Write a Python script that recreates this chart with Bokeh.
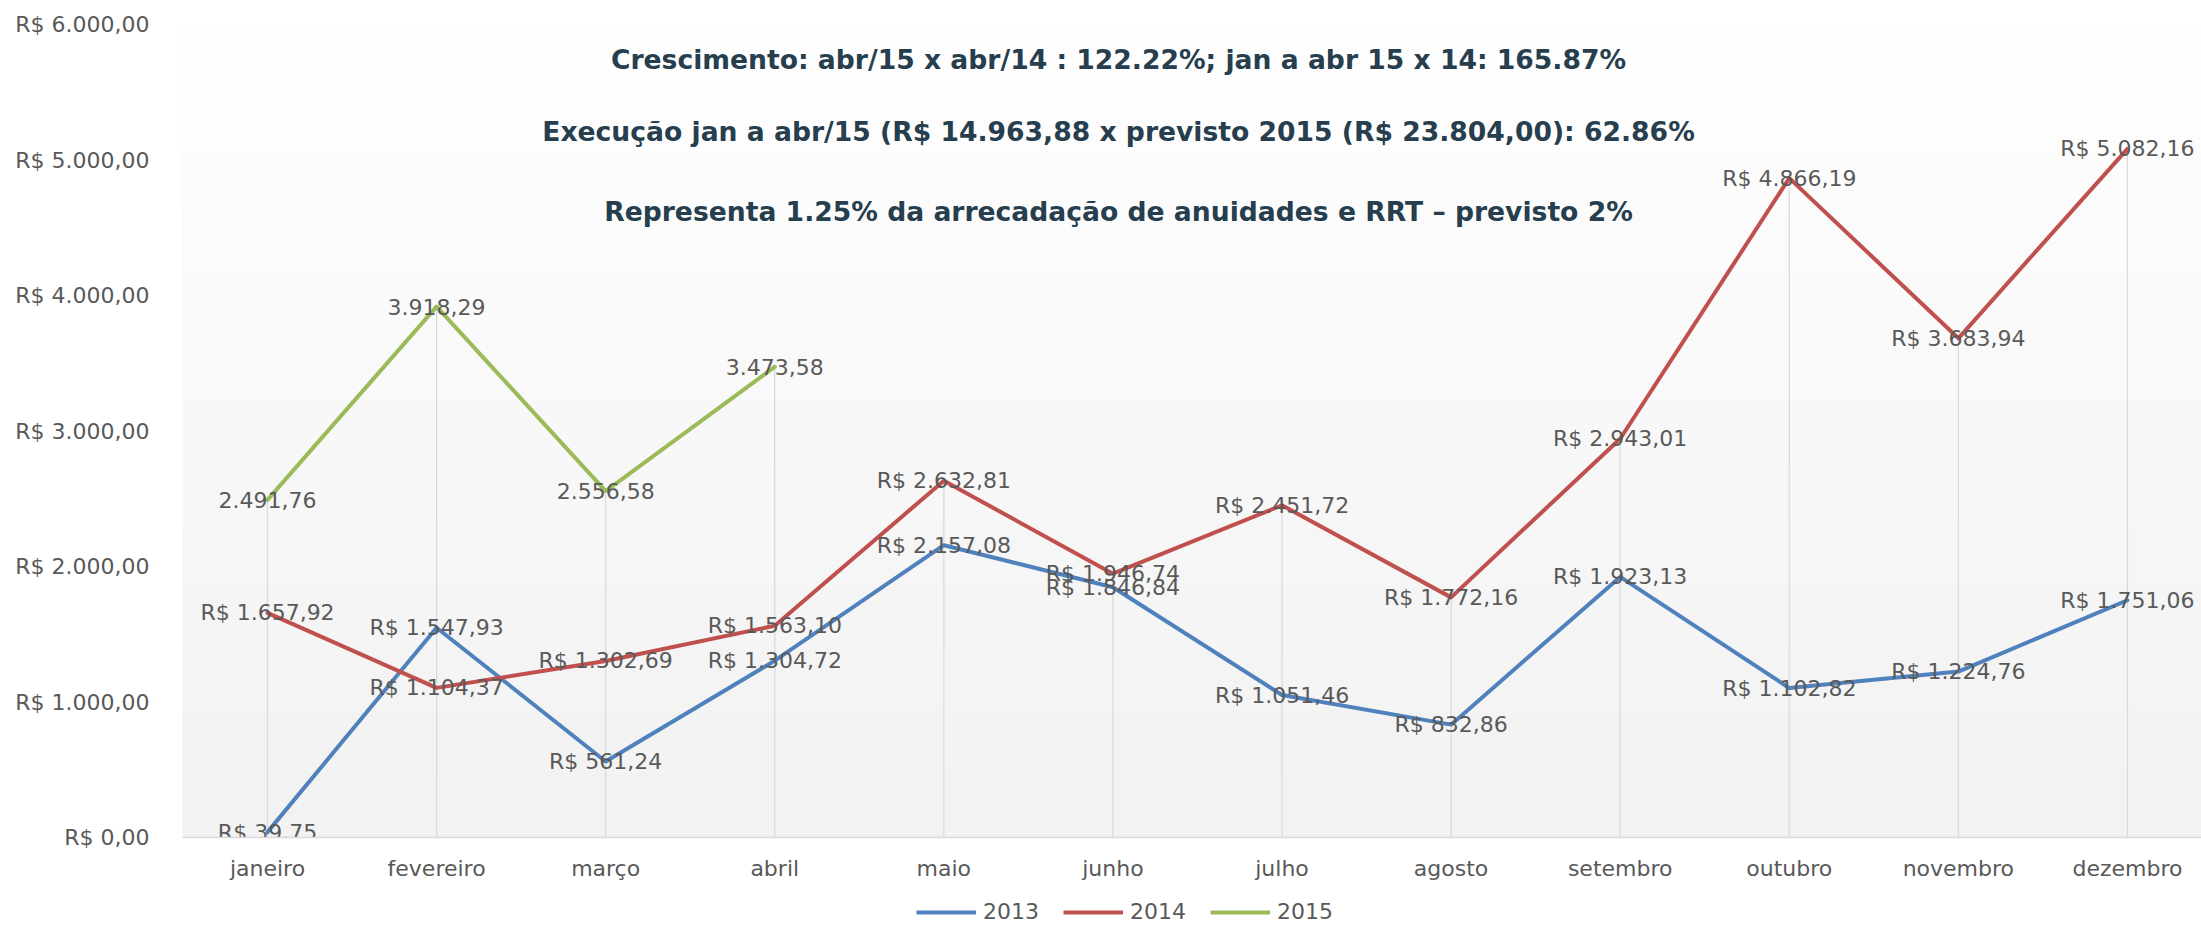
import numpy as np
from bokeh.plotting import figure
from bokeh.layouts import column
from bokeh.models import (Range1d, FixedTicker, ColumnDataSource, Legend, LegendItem,
                          Label, BoxAnnotation)
from bokeh.core.properties import value
from bokeh.embed import file_html
from bokeh.resources import INLINE

# ---------------- data ----------------
months = ["janeiro", "fevereiro", "março", "abril", "maio", "junho", "julho",
          "agosto", "setembro", "outubro", "novembro", "dezembro"]
vals_2013 = [39.75, 1547.93, 561.24, 1304.72, 2157.08, 1846.84, 1051.46,
             832.86, 1923.13, 1102.82, 1224.76, 1751.06]
vals_2014 = [1657.92, 1104.37, 1302.69, 1563.10, 2632.81, 1946.74, 2451.72,
             1772.16, 2943.01, 4866.19, 3683.94, 5082.16]
vals_2015 = [2491.76, 3918.29, 2556.58, 3473.58]
series_names = ["2013", "2014", "2015"]
series_colors = ["#4f81bd", "#c0504d", "#9bbb59"]
y_ticks = [0, 1000, 2000, 3000, 4000, 5000, 6000]
y_tick_labels = ["R$ 0,00", "R$ 1.000,00", "R$ 2.000,00", "R$ 3.000,00",
                 "R$ 4.000,00", "R$ 5.000,00", "R$ 6.000,00"]
title_lines = [
    "Crescimento: abr/15 x abr/14 : 122.22%; jan a abr 15 x 14: 165.87%",
    "Execução jan a abr/15 (R$ 14.963,88 x previsto 2015 (R$ 23.804,00): 62.86%",
    "Representa 1.25% da arrecadação de anuidades e RRT – previsto 2%",
]


def br(v):
    s = f"{v:,.2f}"
    return s.replace(",", "#").replace(".", ",").replace("#", ".")


LABEL_FONT = "DejaVu Sans"
LABEL_SIZE = "22px"
GRAY = "#595959"

W = 2201
H_MAIN = 895
H_LEG = 30

p = figure(width=W, height=H_MAIN, output_backend="svg", toolbar_location=None,
           x_range=Range1d(-0.5027, 11.438), y_range=Range1d(0, 6000),
           min_border_left=182, min_border_right=0, min_border_top=24,
           min_border_bottom=H_MAIN - 837)
p.outline_line_color = None
p.xgrid.visible = False
p.ygrid.visible = False
p.background_fill_color = "white"
p.border_fill_color = "white"

# gradient plot-area background
n = 256
t = np.linspace(0, 1, n)  # 0 bottom -> 1 top
c = (242 + (255 - 242) * t).astype(np.uint32)
img = np.zeros((n, 1), dtype=np.uint32)
view = img.view(dtype=np.uint8).reshape((n, 1, 4))
view[:, 0, 0] = c
view[:, 0, 1] = c
view[:, 0, 2] = c
view[:, 0, 3] = 255
p.image_rgba(image=[img], x=-0.6, y=0, dw=12.2, dh=6000)

# white title box covering top of plot area
p.add_layout(BoxAnnotation(bottom=5314, fill_color="white", fill_alpha=1.0,
                           line_color=None, level="underlay"))

# drop lines
xs = list(range(len(months)))
tops = []
for i in xs:
    vs = [vals_2013[i], vals_2014[i]]
    if i < len(vals_2015):
        vs.append(vals_2015[i])
    tops.append(max(vs))
p.segment(x0=xs, y0=[0] * len(xs), x1=xs, y1=tops, line_color="#d9d9d9",
          line_width=1.2)

# lines
all_vals = [vals_2013, vals_2014, vals_2015]
for name, vals, col in zip(series_names, all_vals, series_colors):
    p.line(x=list(range(len(vals))), y=vals, line_color=col, line_width=4,
           line_join="round", line_cap="round")

# data labels
for name, vals in zip(series_names, all_vals):
    prefix = "" if name == "2015" else "R$ "
    src = ColumnDataSource(dict(x=list(range(len(vals))), y=vals,
                                t=[prefix + br(v) for v in vals]))
    p.text(x="x", y="y", text="t", source=src, text_align="center",
           text_baseline="middle", text_font=value(LABEL_FONT),
           text_font_size=LABEL_SIZE, text_color=GRAY)

# axes
p.yaxis.ticker = FixedTicker(ticks=y_ticks)
p.yaxis.major_label_overrides = {t_: l for t_, l in zip(y_ticks, y_tick_labels)}
p.yaxis.axis_line_color = None
p.yaxis.major_tick_line_color = None
p.yaxis.minor_tick_line_color = None
p.yaxis.major_label_standoff = 27
p.yaxis.major_label_text_font = LABEL_FONT
p.yaxis.major_label_text_font_size = LABEL_SIZE
p.yaxis.major_label_text_color = GRAY

p.xaxis.ticker = FixedTicker(ticks=xs)
p.xaxis.major_label_overrides = {i: m for i, m in zip(xs, months)}
p.xaxis.axis_line_color = "#d9d9d9"
p.xaxis.axis_line_width = 1.5
p.xaxis.major_tick_line_color = None
p.xaxis.minor_tick_line_color = None
p.xaxis.major_tick_out = 0
p.xaxis.major_label_standoff = 18
p.xaxis.major_label_text_font = LABEL_FONT
p.xaxis.major_label_text_font_size = LABEL_SIZE
p.xaxis.major_label_text_color = GRAY

# titles
title_y = [778, 706, 626]
for txt, ty in zip(title_lines, title_y):
    p.add_layout(Label(x=936, y=ty, x_units="screen", y_units="screen", text=txt,
                       text_align="center", text_baseline="middle",
                       text_font="DejaVu Sans", text_font_style="bold",
                       text_font_size="26.6px", text_color="#263e4d"))

# legend strip (separate figure below; its frame aligns with the main frame)
lf = figure(width=W, height=H_LEG, output_backend="svg", toolbar_location=None,
            x_range=Range1d(0, 1), y_range=Range1d(0, 1), x_axis_type=None,
            y_axis_type=None, min_border=0)
lf.outline_line_color = None
lf.xgrid.visible = False
lf.ygrid.visible = False
# legend-only renderers (kept outside the visible range)
leg_renderers = [lf.line(x=[0, 1], y=[5, 5], line_color=col, line_width=4)
                 for col in series_colors]
legend = Legend(items=[LegendItem(label=nm, renderers=[r])
                       for nm, r in zip(series_names, leg_renderers)],
                orientation="horizontal", location=(734, 1),
                glyph_width=60, glyph_height=20, label_standoff=7, spacing=24,
                padding=0, margin=0, border_line_color=None,
                background_fill_alpha=0, label_text_font=LABEL_FONT,
                label_text_font_size=LABEL_SIZE, label_text_color=GRAY)
lf.add_layout(legend, "center")

layout = column(p, lf, spacing=0)
open("out.html", "w").write(file_html(layout, INLINE))
